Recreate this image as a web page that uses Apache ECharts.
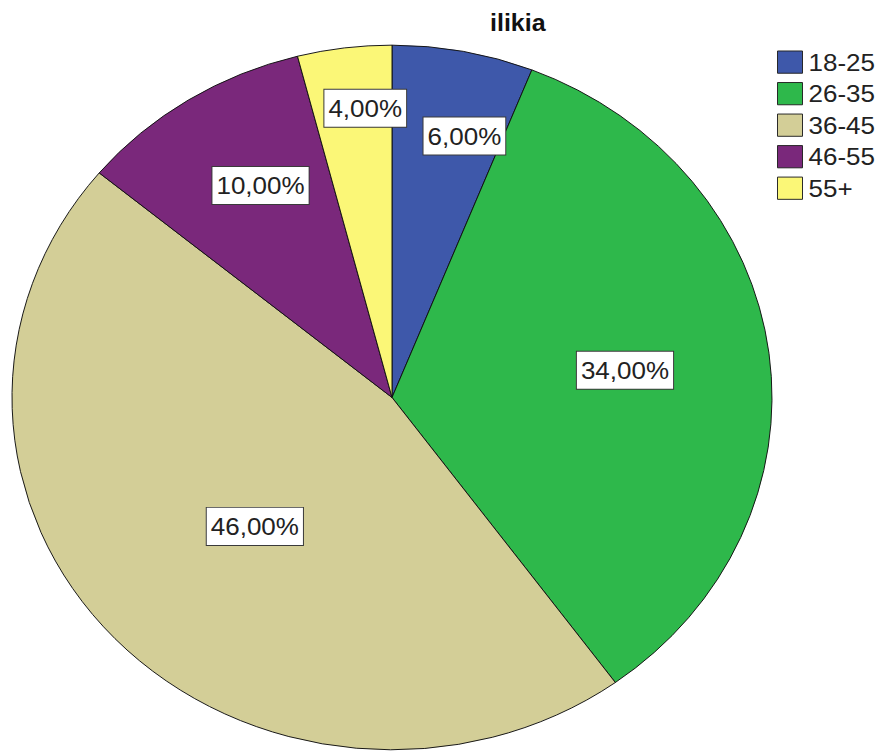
<!DOCTYPE html>
<html>
<head>
<meta charset="utf-8">
<script src="https://cdn.jsdelivr.net/npm/echarts@6/dist/echarts.min.js"></script>
<style>
  html, body { margin: 0; padding: 0; background: #fff; overflow: hidden; }
  #stage { width: 878px; height: 751px; overflow: hidden; position: relative; }
  /* the pie is drawn slightly wider than tall, so the chart is squeezed vertically */
  #chart { width: 878px; height: 810px; transform: scaleY(0.92716); transform-origin: 0 0; }
</style>
</head>
<body>
<div id="stage"><div id="chart"></div></div>
<script>
// Age groups and their share of respondents (%)
const categories = ['18-25', '26-35', '36-45', '46-55', '55+'];
const percents = [6, 34, 46, 10, 4];
const sliceColors = ['#3e58aa', '#2eb84b', '#d3ce97', '#7a287b', '#fbf777'];

// label placement along each slice's bisector (fraction of radius, angle shift in degrees)
const labelRadiusFrac = [0.766, 0.618, 0.514, 0.694, 0.824];
const labelAngleShift = [3.6, 0, -2.2, 2.5, 2.3];

const CX = 392, CY = 428.7, R = 380;

const total = percents.reduce((a, b) => a + b, 0);
const startAt = [];
let acc = 0;
percents.forEach(v => { startAt.push(acc); acc += v; });

const chart = echarts.init(document.getElementById('chart'), null, { renderer: 'svg' });

chart.setOption({
  animation: false,
  backgroundColor: '#ffffff',
  title: {
    text: 'ilikia',
    left: 490,
    top: 12,
    padding: 0,
    textStyle: { fontFamily: 'Liberation Sans, Arial, sans-serif', fontWeight: 'bold', fontSize: 25, color: '#111' }
  },
  legend: {
    orient: 'vertical',
    left: 777,
    top: 54,
    padding: 0,
    itemWidth: 25,
    itemHeight: 24,
    itemGap: 8,
    icon: 'rect',
    selectedMode: false,
    itemStyle: { borderColor: '#222', borderWidth: 1 },
    textStyle: { fontFamily: 'Liberation Sans, Arial, sans-serif', fontSize: 26, color: '#222', padding: [0, 0, 0, 1] },
    data: categories
  },
  series: [{
    type: 'pie',
    center: [CX, CY],
    radius: [0, R],
    startAngle: 90,
    clockwise: true,
    silent: true,
    itemStyle: { borderColor: '#111', borderWidth: 1 },
    label: {
      show: true,
      position: 'inside',
      formatter: p => p.value.toFixed(2).replace('.', ',') + '%',
      fontFamily: 'Liberation Sans, Arial, sans-serif',
      fontSize: 26,
      lineHeight: 28,
      color: '#222',
      backgroundColor: '#ffffff',
      borderColor: '#3a3a3a',
      borderWidth: 1,
      padding: [6, 4]
    },
    labelLine: { show: false },
    labelLayout: params => {
      const i = params.dataIndex;
      const mid = (startAt[i] + percents[i] / 2) / total * 360 + labelAngleShift[i];
      const rad = mid * Math.PI / 180;
      const d = labelRadiusFrac[i] * R;
      return {
        x: CX + d * Math.sin(rad),
        y: CY - d * Math.cos(rad),
        align: 'center',
        verticalAlign: 'middle'
      };
    },
    data: categories.map((name, i) => ({
      name: name,
      value: percents[i],
      itemStyle: { color: sliceColors[i] }
    }))
  }]
});
</script>
</body>
</html>
